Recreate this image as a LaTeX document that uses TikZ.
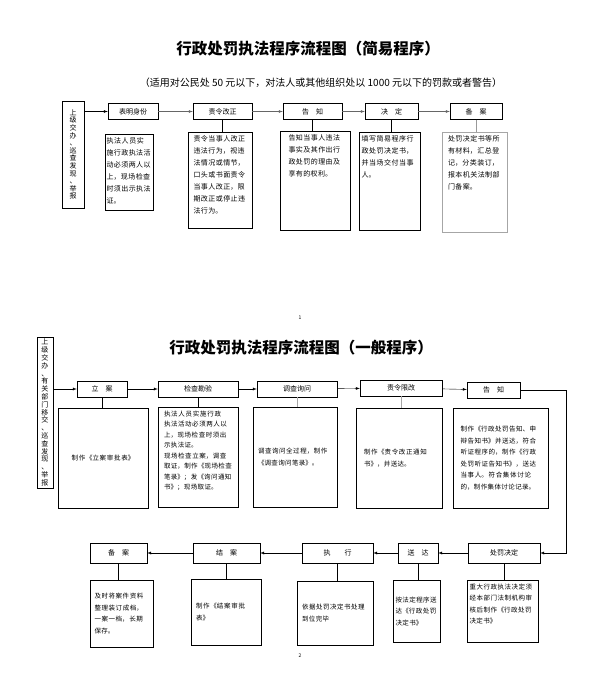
\documentclass[tikz,border=0pt]{standalone}
\usepackage{fontspec}
\setmainfont{Noto Sans CJK SC}
\usetikzlibrary{positioning}
\XeTeXlinebreaklocale "zh"
\XeTeXlinebreakskip=0.4pt plus 0.4pt

\begin{document}
\begin{tikzpicture}[x=1pt,y=-1pt,
  stepbox/.style={draw,minimum height=16pt,inner sep=1pt,font=\fontsize{7}{8}\selectfont},
  descbox/.style={draw,anchor=north,align=left,inner xsep=2.5pt,inner ysep=3pt,font=\fontsize{7}{12}\selectfont},
  smallbox/.style={descbox,font=\fontsize{6.5}{11.5}\selectfont},
  srcbox/.style={draw,align=center,inner sep=0pt,font=\fontsize{7}{7.6}\selectfont},
  link/.style={-latex},
  pagenum/.style={font=\fontsize{5}{6}\selectfont}]
\useasboundingbox (0,0) rectangle (600,699);

% simple procedure
\node[font=\fontsize{15.5}{18}\selectfont\bfseries] (title1) at (308,49) {行政处罚执法程序流程图（简易程序）};
\node[font=\fontsize{10}{12}\selectfont] (range1) at (321,83) {（适用对公民处 50 元以下，对法人或其他组织处以 1000 元以下的罚款或者警告）};
\node[srcbox,minimum width=22pt,minimum height=107pt] (src1) at (73,154.5) {上\\级\\交\\办\\、\\巡\\查\\发\\现\\、\\举\\报};

\node[stepbox,minimum width=50pt] (a1) at (133,111.5) {表明身份};
\node[stepbox,minimum width=59pt] (a2) at (222.5,111.5) {责令改正};
\node[stepbox,minimum width=59pt] (a3) at (312.5,111.5) {告\quad 知};
\node[stepbox,minimum width=53pt] (a4) at (391.5,111.5) {决\quad 定};
\node[stepbox,minimum width=52pt] (a5) at (476,111.5) {备\quad 案};

\node[descbox,inner xsep=1.5pt,text width=45pt,text height=6pt,text depth=64pt] (b1) at (129,134) {执法人员实施行政执法活动必须两人以上，现场检查时须出示执法证。};
\node[descbox,inner xsep=5.5pt,text width=53pt,text height=6pt,text depth=84pt] (b2) at (220,132) {责令当事人改正违法行为，视违法情况或情节，口头或书面责令当事人改正，限期改正或停止违法行为。};
\node[descbox,inner xsep=8.5pt,text width=53pt,text height=6pt,text depth=87pt] (b3) at (315,131) {告知当事人违法事实及其作出行政处罚的理由及享有的权利。};
\node[descbox,text width=56pt,text height=6pt,text depth=86pt] (b4) at (389.5,132) {填写简易程序行政处罚决定书，并当场交付当事人。};
\node[descbox,draw=black!35,inner xsep=6pt,text width=53pt,text height=6pt,text depth=88pt] (b5) at (474.5,132) {处罚决定书等所有材料，汇总登记，分类装订，报本机关法制部门备案。};

\draw[link] (src1.east |- a1) -- (a1);
\foreach \p/\q in {a1/a2,a2/a3,a3/a4,a4/a5}
  \draw[link,black!60] (\p) -- (\q);
\foreach \p/\q in {a2/b2,a3/b3,a4/b4}
  \draw (\p.south) -- (\p.south |- \q.north);
\draw[black!40] (a5.south) -- (a5.south |- b5.north);

\node[pagenum] (pg1) at (300,318) {1};

% general procedure
\node[font=\fontsize{15.5}{18}\selectfont\bfseries] (title2) at (301,348) {行政处罚执法程序流程图（一般程序）};
\node[srcbox,minimum width=16pt,minimum height=151pt,font=\fontsize{7}{7.8}\selectfont] (src2) at (45,412.5) {上\\级\\交\\办\\、\\有\\关\\部\\门\\移\\交\\、\\巡\\查\\发\\现\\、\\举\\报};

\node[stepbox,minimum width=50pt] (c1) at (102,389) {立\quad 案};
\node[stepbox,minimum width=80pt] (c2) at (198,389) {检查勘验};
\node[stepbox,minimum width=80pt] (c3) at (297,389) {调查询问};
\node[stepbox,minimum width=82pt] (c4) at (401,388) {责令限改};
\node[stepbox,minimum width=53pt] (c5) at (493.5,390) {告\quad 知};

\node[smallbox,align=center,text width=85pt,minimum height=100pt] (d1) at (103,408) {制作《立案审批表》};
\node[smallbox,font=\fontsize{6.5}{10.5}\selectfont,inner xsep=6pt,text width=68pt,text height=6pt,text depth=88pt] (d2) at (198,407) {执法人员实施行政执法活动必须两人以上，现场检查时须出示执法证。\\现场检查立案，调查取证，制作《现场检查笔录》；发《询问通知书》；现场取证。};
\node[smallbox,text width=74pt,minimum height=100pt,inner xsep=5pt] (d3) at (295,407) {调查询问全过程，制作《调查询问笔录》。};
\node[smallbox,text width=70pt,minimum height=100pt,inner xsep=8pt] (d4) at (399,408) {制作《责令改正通知书》，并送达。};
\node[smallbox,text width=80pt,minimum height=100pt,inner xsep=7.5pt] (d5) at (500.5,408) {制作《行政处罚告知、申辩告知书》并送达，符合听证程序的，制作《行政处罚听证告知书》，送达当事人。符合集体讨论的，制作集体讨论记录。};

\draw[link] (src2.east |- c1) -- (c1);
\foreach \p/\q in {c1/c2,c2/c3,c3/c4,c4/c5}
  \draw[link] (\p) -- (\q);
\foreach \p/\q in {c1/d1,c2/d2}
  \draw (\p.south) -- (\p.south |- \q.north);
\foreach \p/\q in {c3/d3,c4/d4}
  \draw[black!35] (\p.south) -- (\p.south |- \q.north);

\node[stepbox,minimum width=72pt,minimum height=20pt] (e1) at (504,553) {处罚决定};
\node[stepbox,minimum width=40pt,minimum height=20pt] (e2) at (418,553) {送\quad 达};
\node[stepbox,minimum width=71pt,minimum height=20pt] (e3) at (337.5,553) {执\qquad 行};
\node[stepbox,minimum width=67pt,minimum height=20pt] (e4) at (226.5,553) {结\quad 案};
\node[stepbox,minimum width=57pt,minimum height=20pt] (e5) at (118.5,553) {备\quad 案};

\coordinate (turn) at (566,0);
\draw[link] (c5.east) -- (c5.east -| turn) -- (e1.east -| turn) -- (e1.east);
\foreach \p/\q in {e1/e2,e2/e3,e3/e4,e4/e5}
  \draw[link] (\p) -- (\q);

\node[smallbox,text width=66pt,text height=6pt,text depth=50pt] (f1) at (502.5,580) {重大行政执法决定须经本部门法制机构审核后制作《行政处罚决定书》};
\node[smallbox,text width=42pt,minimum height=62pt] (f2) at (416.5,580) {按法定程序送达《行政处罚决定书》};
\node[smallbox,text width=66pt,minimum height=64pt,inner xsep=5pt] (f3) at (335,581) {依据处罚决定书处理到位完毕};
\node[smallbox,text width=60pt,minimum height=66pt,inner xsep=5pt] (f4) at (226,579) {制作《结案审批表》};
\node[smallbox,text width=54pt,minimum height=67pt,inner xsep=4.5pt] (f5) at (121.5,580) {及时将案件资料整理装订成档，一案一档，长期保存。};

\foreach \p/\q in {e1/f1,e2/f2,e3/f3,e4/f4,e5/f5}
  \draw (\p.south) -- (\p.south |- \q.north);

\node[pagenum] (pg2) at (300,656) {2};
\end{tikzpicture}
\end{document}
